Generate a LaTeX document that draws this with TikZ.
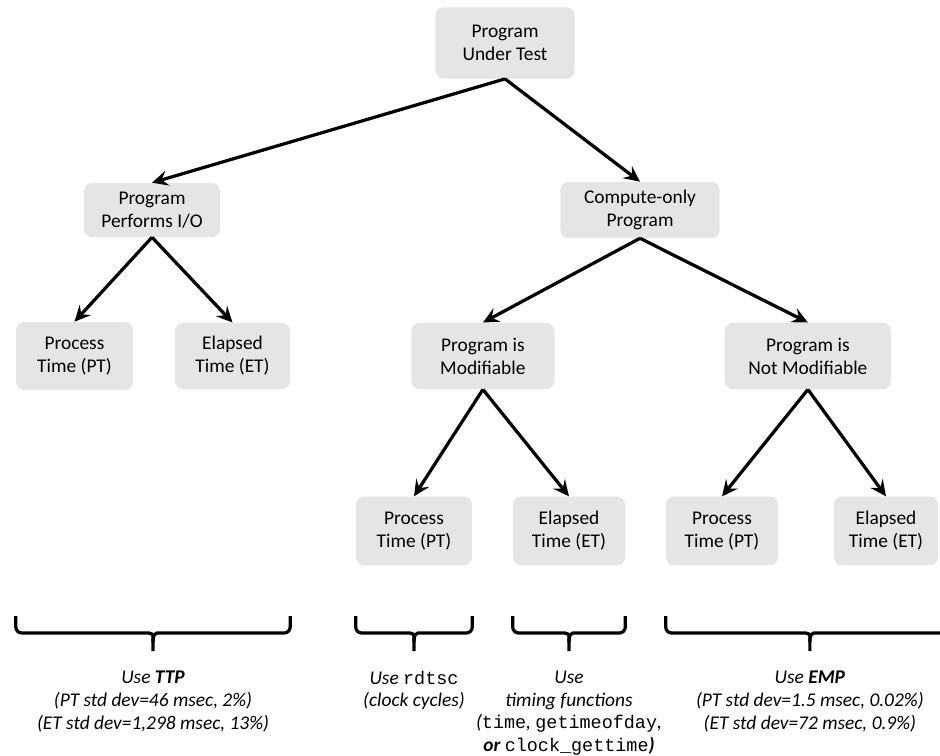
\documentclass[tikz,border=0pt]{standalone}
\usepackage{fontspec}
\setmainfont{Carlito}
\setmonofont[Scale=0.95]{Liberation Mono}
\usetikzlibrary{positioning,arrows.meta,calc}
\tikzset{>={Stealth[length=0.4cm,width=0.38cm,inset=0.15cm]}}
\newcommand{\boxfont}{\fontsize{13.8}{16.3}\selectfont}
\newcommand{\mono}[1]{{\upshape\ttfamily #1}}
\tikzset{
  box/.style={rectangle, rounded corners=0.2cm, fill=gray!20, align=center, font=\boxfont, minimum width=2.85cm, minimum height=1.72cm, inner sep=2pt},
  link/.style={->, line width=2.3pt},
  brc/.style={line width=2.3pt, rounded corners=0.15cm},
  note/.style={align=center, font=\boxfont\itshape, inner sep=0pt}
}
% brace from #1 to #2, middle named #3
\newcommand{\curlybrace}[3]{%
  \path ($(#1)!0.5!(#2)$) coordinate (#3);
  \draw[brc] (#1) |- ([xshift=-0.25cm,yshift=-0.425cm]#3) .. controls ([xshift=-0.05cm,yshift=-0.425cm]#3) and ([yshift=-0.46cm]#3) .. ([yshift=-0.65cm]#3) -- ([yshift=-0.875cm]#3);
  \draw[brc] (#2) |- ([xshift=0.25cm,yshift=-0.425cm]#3) .. controls ([xshift=0.05cm,yshift=-0.425cm]#3) and ([yshift=-0.46cm]#3) .. ([yshift=-0.65cm]#3);
}

\begin{document}
\begin{tikzpicture}
      \useasboundingbox (0,0) rectangle (23.5,-18.875);
      % top two levels
      \node[box, minimum width=3.48cm, minimum height=1.78cm] (root) at (12.625,-1.075) {Program\\Under Test};
      \node[box, minimum width=3.4cm, minimum height=1.35cm] (io) at (3.8,-5.25) {Program\\Performs I/O};
      \node[box, right of=io, node distance=12.2cm, minimum width=3.98cm, minimum height=1.4cm] (comp) {Compute-only\\Program};
      % third level
      \node[box, minimum width=2.92cm, minimum height=1.7cm] (ptL) at (1.8625,-8.9) {Process\\Time (PT)};
      \node[box, right of=ptL, node distance=3.95cm, minimum width=2.87cm, minimum height=1.66cm] (etL) {Elapsed\\Time (ET)};
      \node[box, right of=etL, node distance=6.26cm, minimum width=3.58cm, minimum height=1.66cm] (mod) {Program is\\Modifiable};
      \node[box, right of=mod, node distance=8.125cm, minimum width=4.15cm, minimum height=1.66cm] (nmod) {Program is\\Not Modifiable};
      % bottom level
      \node[box, minimum width=2.9cm] (ptM) at (10.35,-13.275) {Process\\Time (PT)};
      \node[box, right of=ptM, node distance=3.875cm, minimum width=2.8cm] (etM) {Elapsed\\Time (ET)};
      \node[box, right of=etM, node distance=3.825cm, minimum width=2.8cm] (ptR) {Process\\Time (PT)};
      \node[box, right of=ptR, node distance=4.1cm, minimum width=2.6cm] (etR) {Elapsed\\Time (ET)};
      \draw[link] (root.south) -- (io.north);
      \draw[link] (root.south) -- (comp.north);
      \draw[link] (io.south) -- (ptL.north);
      \draw[link] (io.south) -- (etL.north);
      \draw[link] (comp.south) -- (mod.north);
      \draw[link] (comp.south) -- (nmod.north);
      \draw[link] (mod.south) -- (ptM.north);
      \draw[link] (mod.south) -- (etM.north);
      \draw[link] (nmod.south) -- (ptR.north);
      \draw[link] (nmod.south) -- (etR.north);
      % braces and what to use
      \coordinate (bline) at (0,-15.4);
      \coordinate (b1a) at (ptL.west |- bline);
      \coordinate (b1b) at (etL.east |- bline);
      \coordinate (b2a) at (ptM.west |- bline);
      \coordinate (b2b) at (ptM.east |- bline);
      \coordinate (b3a) at (etM.west |- bline);
      \coordinate (b3b) at (etM.east |- bline);
      \coordinate (b4a) at (ptR.west |- bline);
      \coordinate (b4b) at (23.85,-15.4);
      \curlybrace{b1a}{b1b}{tipTTP}
      \curlybrace{b2a}{b2b}{tipRdtsc}
      \curlybrace{b3a}{b3b}{tipTiming}
      \curlybrace{b4a}{b4b}{tipEMP}
      \node[note, below=1.36cm of tipTTP] (useTTP) {Use \textbf{TTP}\\(PT std dev=46 msec, 2\%)\\(ET std dev=1,298 msec, 13\%)};
      \node[note, below=1.36cm of tipRdtsc] (useRdtsc) {Use \mono{rdtsc}\\(clock cycles)};
      \node[note, below=1.36cm of tipTiming] (useTiming) {Use\\timing functions\\(\mono{time}, \mono{getimeofday},\\\textbf{or} \mono{clock\_gettime}\textbf{)}};
      \node[note, below=1.36cm of tipEMP] (useEMP) {Use \textbf{EMP}\\(PT std dev=1.5 msec, 0.02\%)\\(ET std dev=72 msec, 0.9\%)};
    \end{tikzpicture}
\end{document}
